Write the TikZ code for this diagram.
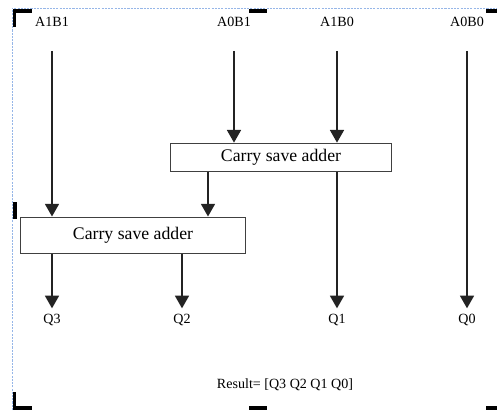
\documentclass[tikz,border=0pt]{standalone}
\usepackage{fontspec}
\setmainfont{Liberation Serif}
\usepackage{xcolor}
\usepackage{tikz}
\usetikzlibrary{arrows.meta,calc}

\definecolor{framebl}{RGB}{150,182,232}
\definecolor{wire}{RGB}{35,35,35}

\begin{document}
\begin{tikzpicture}[
  x=0.025cm, y=-0.025cm,
  lbl/.style={inner sep=1pt, font=\fontsize{10}{12}\selectfont},
  box/.style={rectangle, draw=black!75, line width=0.7pt, font=\fontsize{12.6}{14}\selectfont, align=center},
  arrow/.style={-{Triangle[width=10pt, length=9pt]}, line width=1pt, wire},
  cornermark/.style={line width=2.2pt, black}
]
\useasboundingbox (0,0) rectangle (497,410);

% Page frame
\draw[framebl, dash pattern=on 1.5pt off 0.8pt, line width=0.7pt] (12,410) -- (12,8) -- (497,8);
\draw[cornermark] (14.5,27) -- (14.5,11) -- (32,11);
\draw[cornermark] (249,11) -- (267,11);
\draw[cornermark] (486,11) -- (497,11);
\draw[cornermark] (15,202) -- (15,219);
\draw[cornermark] (14.5,392) -- (14.5,408) -- (32,408);
\draw[cornermark] (249,408) -- (267,408);
\draw[cornermark] (486,408) -- (497,408);

% Inputs
\node[lbl] (a1b1) at (52,22) {A1B1};
\node[lbl] (a0b1) at (234,22) {A0B1};
\node[lbl] (a1b0) at (337,22) {A1B0};
\node[lbl] (a0b0) at (467,22) {A0B0};

% Carry save adders
\node[box, minimum width=5.5cm, minimum height=0.72cm] (csa1) at (281,157.5) {Carry save adder};
\node[box, minimum width=5.6cm, minimum height=0.9cm] (csa2) at (133,235) {Carry save adder};
\coordinate (carry) at (208,0);

% Outputs
\node[lbl] (q3) at (52,320) {Q3};
\node[lbl] (q2) at (182,320) {Q2};
\node[lbl] (q1) at (337,320) {Q1};
\node[lbl] (q0) at (467,320) {Q0};

\node[lbl] (result) at (285,385) {Result= [Q3 Q2 Q1 Q0]};

% Arrows
\draw[arrow, shorten <=16pt] (a1b1) -- (a1b1 |- csa2.north);
\draw[arrow, shorten <=16pt] (a0b1) -- (a0b1 |- csa1.north);
\draw[arrow, shorten <=16pt] (a1b0) -- (a1b0 |- csa1.north);
\draw[arrow, shorten <=16pt, shorten >=3pt] (a0b0) -- (q0);
\draw[arrow] (carry |- csa1.south) -- (carry |- csa2.north);
\draw[arrow, shorten >=3pt] (q1 |- csa1.south) -- (q1);
\draw[arrow, shorten >=3pt] (q3 |- csa2.south) -- (q3);
\draw[arrow, shorten >=3pt] (q2 |- csa2.south) -- (q2);

\end{tikzpicture}
\end{document}
